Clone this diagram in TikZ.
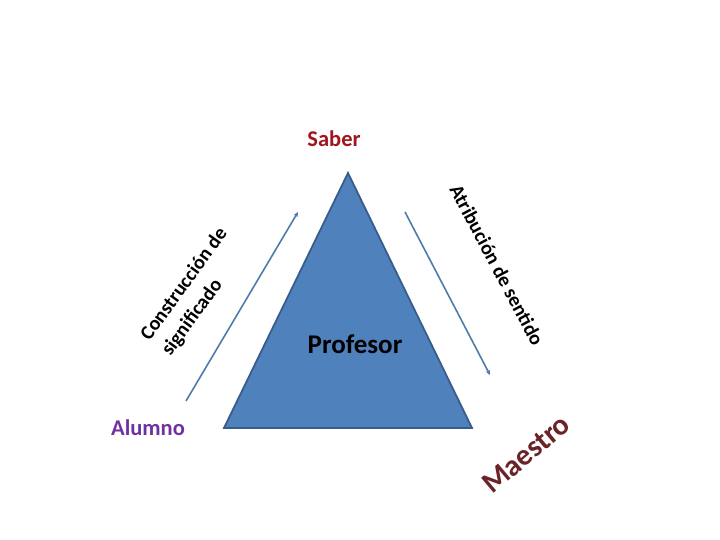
\documentclass[tikz,border=0pt]{standalone}
\usepackage{fontspec}
\setmainfont{Carlito}
\usetikzlibrary{arrows.meta}
\definecolor{triFill}{HTML}{4F81BD}
\definecolor{triDraw}{HTML}{385D8A}
\definecolor{arrowC}{HTML}{4F7BAA}
\definecolor{saberC}{HTML}{A2151E}
\definecolor{maestroC}{HTML}{6A2427}
\definecolor{alumnoC}{HTML}{7030A0}
\tikzset{
  lbl/.style={inner sep=0pt, font=\bfseries},
  flow/.style={draw=arrowC, line width=1.6pt, -{Stealth[length=5pt,width=4.5pt]}},
}
\begin{document}
\begin{tikzpicture}[x=1pt,y=-1pt]
\useasboundingbox (0,0) rectangle (720,540);
\coordinate (apex) at (348,173);
\coordinate (bl) at (224,428);
\coordinate (br) at (472,428);
\draw[fill=triFill, draw=triDraw, line width=1.8pt, line join=miter] (apex) -- (bl) -- (br) -- cycle;
\node[lbl, font=\fontsize{27}{30}\selectfont\bfseries] (prof) at (355,344) {Profesor};
\node[lbl, text=saberC, font=\fontsize{22.5}{26}\selectfont\bfseries] (saber) at (334,139) {Saber};
\node[lbl, text=alumnoC, font=\fontsize{22.5}{26}\selectfont\bfseries] (alumno) at (148,428) {Alumno};
\node[lbl, rotate=54, align=left, font=\fontsize{20}{26}\selectfont\bfseries] (cons) at (195,292) {Construcción de\\significado};
\node[lbl, rotate=-62, font=\fontsize{20}{24}\selectfont\bfseries] (atrib) at (497,265) {Atribución de sentido};
\node[lbl, rotate=40, text=maestroC, font=\fontsize{30}{34}\selectfont\bfseries] (maestro) at (526,454) {Maestro};
\coordinate (l1) at (186,401);
\coordinate (l2) at (298,212);
\coordinate (r1) at (405,212);
\coordinate (r2) at (490,375);
\draw[flow] (l1) -- (l2);
\draw[flow] (r1) -- (r2);
\end{tikzpicture}
\end{document}
